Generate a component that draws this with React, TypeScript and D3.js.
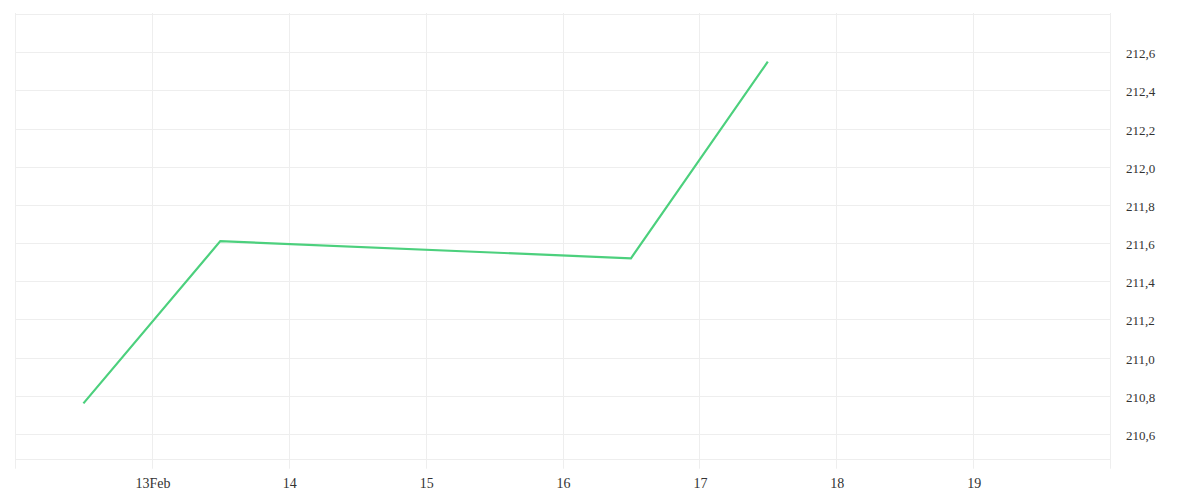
import { useEffect, useRef } from "react";
import * as d3 from "d3";

// daily readings, plotted at midday
const dates = ["2024-02-12T12:00", "2024-02-13T12:00", "2024-02-16T12:00", "2024-02-17T12:00"];
const values = [210.76, 211.61, 211.52, 212.55];
const yTicks = [210.6, 210.8, 211.0, 211.2, 211.4, 211.6, 211.8, 212.0, 212.2, 212.4, 212.6, 212.8];
const yLabelTicks = [210.6, 210.8, 211.0, 211.2, 211.4, 211.6, 211.8, 212.0, 212.2, 212.4, 212.6];
const xDomain = ["2024-02-12T00:00", "2024-02-20T00:00"];
const yDomain = [210.47, 212.8];

export default function App() {
  const width = 1200;
  const height = 500;
  const svgRef = useRef<SVGSVGElement>(null);

  useEffect(() => {
    const parse = d3.timeParse("%Y-%m-%dT%H:%M");
    const left = 15;
    const right = 1110;
    const top = 14;
    const bottom = 458.7;
    const grid = "#eeeeee";
    const font = "'Liberation Serif', serif";

    const x = d3
      .scaleTime()
      .domain(xDomain.map((d) => parse(d) as Date))
      .range([left, right]);
    const y = d3.scaleLinear().domain(yDomain).range([bottom, top]);

    const svg = d3.select(svgRef.current);
    svg.selectAll("*").remove();

    const days = d3.timeDay.range(x.domain()[0], d3.timeDay.offset(x.domain()[1], 1));

    // horizontal grid
    svg
      .append("g")
      .selectAll("line")
      .data(yTicks)
      .join("line")
      .attr("x1", left)
      .attr("x2", right)
      .attr("y1", (d) => Math.round(y(d)) + 0.5)
      .attr("y2", (d) => Math.round(y(d)) + 0.5)
      .attr("stroke", grid);

    // bottom edge
    svg
      .append("line")
      .attr("x1", left)
      .attr("x2", right)
      .attr("y1", Math.round(bottom) + 0.5)
      .attr("y2", Math.round(bottom) + 0.5)
      .attr("stroke", grid);

    // vertical grid + ticks
    svg
      .append("g")
      .selectAll("line")
      .data(days)
      .join("line")
      .attr("x1", (d) => Math.round(x(d)) + 0.5)
      .attr("x2", (d) => Math.round(x(d)) + 0.5)
      .attr("y1", top - 1)
      .attr("y2", bottom + 10)
      .attr("stroke", grid);

    // x labels
    const fmt = (d: Date) =>
      d.getDate() === 13 ? `${d3.timeFormat("%-d")(d)}Feb` : d3.timeFormat("%-d")(d);
    svg
      .append("g")
      .attr("font-family", font)
      .attr("font-size", 14)
      .attr("fill", "#333")
      .attr("text-anchor", "middle")
      .selectAll("text")
      .data(days.filter((d) => d > x.domain()[0] && d < x.domain()[1]))
      .join("text")
      .attr("x", (d) => x(d) + 1)
      .attr("y", 488)
      .text(fmt);

    // y labels
    const yFmt = (v: number) => v.toFixed(1).replace(".", ",");
    svg
      .append("g")
      .attr("font-family", font)
      .attr("font-size", 13)
      .attr("fill", "#333")
      .selectAll("text")
      .data(yLabelTicks)
      .join("text")
      .attr("x", 1126)
      .attr("y", (d) => y(d) + 6)
      .text(yFmt);

    // series line
    const pts = dates.map((d, i) => [parse(d) as Date, values[i]] as [Date, number]);
    const line = d3
      .line<[Date, number]>()
      .x((d) => x(d[0]))
      .y((d) => y(d[1]));
    svg
      .append("path")
      .datum(pts)
      .attr("d", line)
      .attr("fill", "none")
      .attr("stroke", "#4cd07d")
      .attr("stroke-width", 2.2);
  }, []);

  return (
    <svg
      ref={svgRef}
      width={width}
      height={height}
      style={{ position: "absolute", left: 0, top: 0, background: "#fff" }}
    ></svg>
  );
}
